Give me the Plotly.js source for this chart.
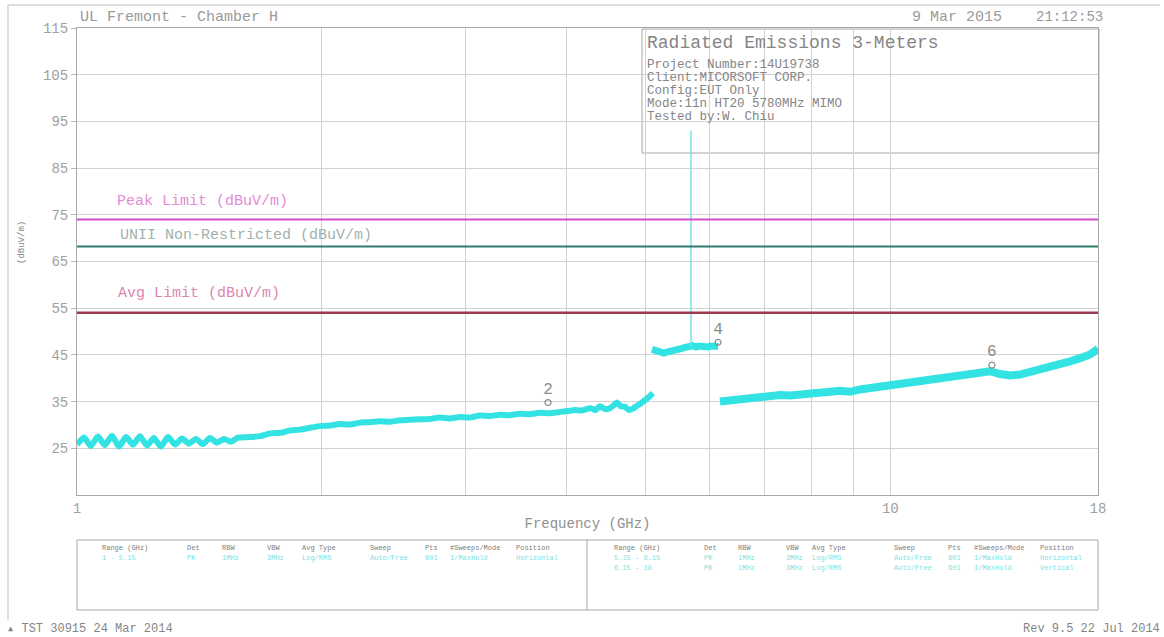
<!DOCTYPE html>
<html>
<head>
<meta charset="utf-8">
<script src="https://cdn.plot.ly/plotly-3.0.1.min.js"></script>
<style>html,body{margin:0;padding:0;background:#fff;}#chart{width:1164px;height:637px;}</style>
</head>
<body>
<div id="chart"></div>
<script>
// ---------- data ----------
// Sweep 1: 1 - 5.1 GHz
const freq1 = [1.000,1.020,1.040,1.061,1.082,1.104,1.126,1.149,1.172,1.195,1.219,1.243,1.268,1.294,1.320,1.346,1.373,1.400,1.428,1.457,1.486,1.516,1.546,1.577,
  1.632,1.680,1.727,1.780,1.827,1.880,1.934,2.001,2.050,2.105,2.165,2.228,2.290,2.358,2.430,2.495,2.570,2.640,2.720,2.794,2.870,2.957,3.040,3.129,3.220,3.311,3.400,3.504,3.600,3.709,3.810,3.925,4.010,4.095,4.180,4.273,4.340,4.395,4.460,4.521,4.570,4.612,4.660,4.718,4.770,4.826,4.880,4.922,4.992,5.049,5.106];
const level1 = [25.8,27.3,25.5,27.5,25.7,27.7,25.4,27.4,25.8,27.6,25.6,27.2,25.4,27.4,25.8,27.1,26.0,27.0,25.9,27.2,26.2,27.0,26.4,27.3,
  27.4,27.6,28.2,28.3,28.8,29.0,29.4,29.8,29.9,30.2,30.1,30.5,30.6,30.8,30.7,31.0,31.1,31.2,31.3,31.6,31.4,31.7,31.6,32.0,31.9,32.2,32.1,32.4,32.3,32.6,32.5,32.8,33.0,33.2,33.1,33.6,33.2,34.0,33.4,33.6,34.2,34.8,34.0,33.9,33.2,33.5,34.1,34.5,35.3,36.0,36.8];
// Sweep 2: 5.1 - 6.14 GHz (band edge sweep)
const freq2 = [5.092,5.135,5.179,5.220,5.268,5.310,5.358,5.400,5.450,5.500,5.544,5.590,5.639,5.672,5.704,5.768,5.820,5.867,5.920,5.968,6.020,6.070,6.140];
const level2 = [46.2,45.9,45.8,45.5,45.4,45.6,45.7,46.0,46.2,46.3,46.4,46.6,46.5,46.8,47.0,46.7,46.9,46.8,46.6,46.7,46.9,46.9,46.8];
// Fundamental spike
const spikeFreq = [5.688,5.688];
const spikeLevel = [46.8,93.0];
// Sweep 3: 6.17 - 18 GHz
const freq3 = [6.173,6.351,6.535,6.722,6.916,7.112,7.317,7.527,7.743,7.965,8.194,8.430,8.671,8.921,9.176,9.440,9.710,9.989,10.28,10.57,10.87,11.19,11.51,11.84,12.18,12.53,12.89,13.26,13.64,14.03,14.43,14.85,15.27,15.71,16.16,16.63,17.11,17.60,18.00];
const level3 = [35.0,35.3,35.5,35.8,36.0,36.2,36.4,36.3,36.6,36.8,37.0,37.1,37.3,37.1,37.6,37.9,38.2,38.5,38.9,39.2,39.4,39.6,39.9,40.2,40.4,40.8,41.2,41.5,40.9,40.6,40.8,41.3,41.8,42.4,43.0,43.6,44.3,45.1,46.3];
// Limit lines
const limitFreq = [1, 18];
const peakLimit = [74, 74];
const uniiLimit = [68.2, 68.2];
const avgLimit = [54, 54];
const limitNames = ['Peak Limit (dBuV/m)', 'UNII Non-Restricted (dBuV/m)', 'Avg Limit (dBuV/m)'];
// Markers
const markerFreq = [3.794, 6.14, 13.33];
const markerLevel = [34.8, 47.7, 42.8];
const markerLabel = ['2', '4', '6'];
// Axis ticks
const yTicks = [25,35,45,55,65,75,85,95,105,115];
const xTickVals = [1,2,3,4,5,6,7,8,9,10,18];
const xTickText = ['1','','','','','','','','','10','18'];
// Info box text
const infoTitle = 'Radiated Emissions 3-Meters';
const infoLines = ['Project Number:14U19738','Client:MICORSOFT CORP.','Config:EUT Only','Mode:11n HT20 5780MHz MIMO','Tested by:W. Chiu'];
// Settings table
const tableHeaders = ['Range (GHz)','Det','RBW','VBW','Avg Type','Sweep','Pts','#Sweeps/Mode','Position'];
const leftRows = [['1 - 5.15','PK','1MHz','3MHz','Log/RMS','Auto/Free','601','1/MaxHold','Horizontal']];
const rightRows = [['5.15 - 6.15','PK','1MHz','3MHz','Log/RMS','Auto/Free','601','1/MaxHold','Horizontal'],
                   ['6.15 - 18','PK','1MHz','3MHz','Log/RMS','Auto/Free','601','1/MaxHold','Vertical']];

// ---------- layout helpers (pixel -> paper) ----------
const L = 77, T = 28, W = 1021, H = 467;
const px = x => (x - L) / W;
const py = y => (T + H - y) / H;
const MONO = 'Liberation Mono, DejaVu Sans Mono, monospace';
const CYAN = '#33e3e3';
const TXT = '#9a9a9a';

function txt(x, y, text, size, color, anchor, extra) {
  return Object.assign({xref:'paper', yref:'paper', x:px(x), y:py(y), text:text, showarrow:false,
    xanchor:anchor||'left', yanchor:'middle', font:{family:MONO, size:size, color:color}}, extra||{});
}

const traces = [
  {x:freq1, y:level1, mode:'lines', line:{color:CYAN, width:6, shape:'spline', smoothing:0.6}, hoverinfo:'skip'},
  {x:freq2, y:level2, mode:'lines', line:{color:CYAN, width:7}, hoverinfo:'skip'},
  {x:spikeFreq, y:spikeLevel, mode:'lines', line:{color:'#6ee8e2', width:1.5}, hoverinfo:'skip'},
  {x:freq3, y:level3, mode:'lines', line:{color:CYAN, width:8}, hoverinfo:'skip'},
  {x:limitFreq, y:peakLimit, mode:'lines', line:{color:'#d44ccc', width:2}, name:limitNames[0]},
  {x:limitFreq, y:uniiLimit, mode:'lines', line:{color:'#2e7a6c', width:2}, name:limitNames[1]},
  {x:limitFreq, y:avgLimit, mode:'lines', line:{color:'#9a3a50', width:2.5}, name:limitNames[2]},
  {x:markerFreq, y:markerLevel, mode:'markers+text', text:markerLabel, textposition:'top center',
   textfont:{family:MONO, size:16, color:'#8a8a8a'},
   marker:{symbol:'circle-open', size:6, color:'#8a8a8a', line:{width:1.2, color:'#8a8a8a'}}}
];

const annotations = [
  txt(78, 17, 'UL Fremont - Chamber H', 15, TXT),
  txt(910, 17, '9 Mar 2015', 15, TXT),
  txt(1034, 17, '21:12:53', 14, TXT),
  txt(645, 43, infoTitle, 18, '#858585'),
  txt(115, 201, limitNames[0], 15, '#e58ad6'),
  txt(118, 235, limitNames[1], 15, '#9fb3ad'),
  txt(116, 293, limitNames[2], 15, '#dd86b0'),
  txt(5, 629, '\u25b4 TST 30915 24 Mar 2014', 12, '#858585'),
  txt(1162, 629, 'Rev 9.5 22 Jul 2014', 12, '#858585', 'right'),
  txt(22, 243, '(dBuV/m)', 9, '#8a8a8a', 'center', {textangle:-90})
];
const infoY = [65, 78, 91, 104, 117];
infoLines.forEach((s, i) => annotations.push(txt(645, infoY[i], s, 12.5, '#858585')));

const leftCols = [100, 185, 220, 265, 300, 368, 423, 448, 514];
const rightCols = [612, 702, 736, 784, 810, 892, 946, 972, 1038];
tableHeaders.forEach((h, i) => {
  annotations.push(txt(leftCols[i], 548, h, 7, '#808080'));
  annotations.push(txt(rightCols[i], 548, h, 7, '#808080'));
});
leftRows.forEach((r, j) => r.forEach((c, i) => annotations.push(txt(leftCols[i], 558 + 10*j, c, 7, '#7ae3e3'))));
rightRows.forEach((r, j) => r.forEach((c, i) => annotations.push(txt(rightCols[i], 558 + 10*j, c, 7, '#7ae3e3'))));

const shapes = [
  {type:'rect', xref:'paper', yref:'paper', x0:px(642), x1:px(1099), y0:py(153), y1:py(29),
   fillcolor:'#ffffff', line:{color:'#a8a8a8', width:1}, layer:'between'},
  {type:'rect', xref:'paper', yref:'paper', x0:px(77), x1:px(1098), y0:py(610), y1:py(540),
   line:{color:'#a8a8a8', width:1}},
  {type:'line', xref:'paper', yref:'paper', x0:px(587), x1:px(587), y0:py(610), y1:py(540),
   line:{color:'#a8a8a8', width:1}},
  {type:'line', xref:'paper', yref:'paper', x0:px(8), x1:px(1160), y0:py(5), y1:py(5),
   line:{color:'#bdbdbd', width:1}},
  {type:'line', xref:'paper', yref:'paper', x0:px(8), x1:px(8), y0:py(5), y1:py(620),
   line:{color:'#bdbdbd', width:1}}
];

const layout = {
  width:1164, height:637,
  margin:{l:77, r:66, t:28, b:142, pad:0},
  paper_bgcolor:'#ffffff', plot_bgcolor:'#ffffff',
  showlegend:false,
  xaxis:{type:'log', range:[0, Math.log10(18)], tickmode:'array', tickvals:xTickVals, ticktext:xTickText,
    showgrid:true, gridcolor:'#d2d2d2', gridwidth:1, showline:true, linecolor:'#a8a8a8', linewidth:1, mirror:true,
    ticks:'', zeroline:false, tickfont:{family:MONO, size:14, color:'#a0a0a0'},
    title:{text:'Frequency (GHz)', font:{family:MONO, size:14, color:'#909090'}, standoff:2}},
  yaxis:{range:[15,115], tickmode:'array', tickvals:yTicks, ticktext:yTicks.map(String),
    showgrid:true, gridcolor:'#d2d2d2', gridwidth:1, showline:true, linecolor:'#a8a8a8', linewidth:1, mirror:true,
    ticks:'outside', ticklen:5, tickcolor:'#b5b5b5', zeroline:false,
    tickfont:{family:MONO, size:14, color:'#a0a0a0'},
    title:{text:'', font:{family:MONO, size:9, color:'#888'}}},
  annotations:annotations,
  shapes:shapes
};

Plotly.newPlot('chart', traces, layout, {displayModeBar:false, staticPlot:true});
</script>
</body>
</html>
